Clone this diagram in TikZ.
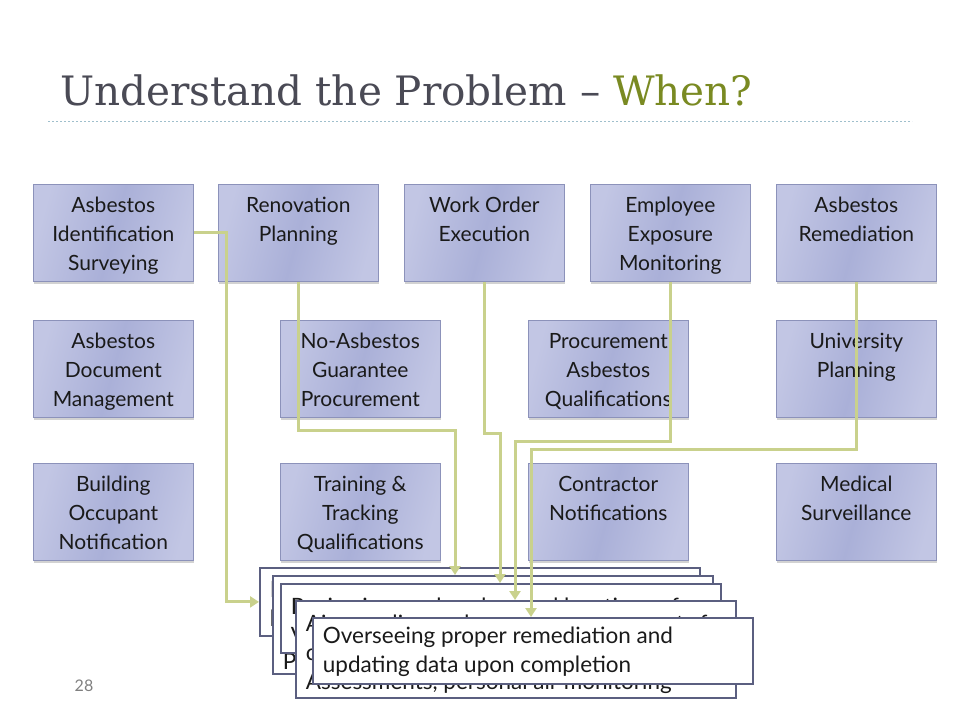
\documentclass[tikz,border=0pt]{standalone}
\usepackage{fontspec}
\setmainfont{Lato}
\newfontfamily\titlefont{DejaVu Serif}
\usetikzlibrary{arrows.meta,shadows}
\definecolor{titlegray}{HTML}{4A4A55}
\definecolor{titleolive}{HTML}{7A8A22}
\definecolor{rulecol}{HTML}{9FBFCC}
\definecolor{boxlight}{HTML}{C2C6E4}
\definecolor{boxdark}{HTML}{AAB0D8}
\definecolor{boxline}{HTML}{8C92BA}
\definecolor{txtc}{HTML}{1A1A1A}
\definecolor{callline}{HTML}{5B5F80}
\definecolor{connc}{HTML}{C9D18C}
\definecolor{pagegray}{HTML}{808080}
\newcommand\tb[1]{\parbox[c][97pt][t]{160pt}{\centering\fontsize{21}{29}\selectfont\color{txtc}\rule{0pt}{28pt}#1}}
\newcommand\cb[3]{\parbox[c][#1][t]{440pt}{\fontsize{22.5}{29}\selectfont\color{txtc}\leftskip=10pt\rightskip=0pt plus 1fil\rule{0pt}{#2}#3}}
\tikzset{
  topbox/.style={draw=boxline, line width=0.6pt, left color=boxlight, right color=boxlight, middle color=boxdark,
    shading angle=75,
    drop shadow={shadow xshift=1pt, shadow yshift=-2.5pt, opacity=0.35}, inner sep=0pt, anchor=north west},
  callbox/.style={draw=callline, line width=1.8pt, fill=white, inner sep=0pt, anchor=north west},
  conn/.style={draw=connc, line width=3pt, -{Triangle[length=9pt,width=11pt]}}
}
\begin{document}
\begin{tikzpicture}[x=1pt,y=-1pt]
\useasboundingbox[fill=white] (0,0) rectangle (960,720);

% title
\node[anchor=base west, inner sep=0pt, font=\titlefont\fontsize{40.5}{42}\selectfont] (title) at (60,105)
  {\color{titlegray}Understand the Problem – \color{titleolive}When?};
\draw[rulecol, line width=1pt, dash pattern=on 2pt off 2pt] (48,121) -- (912,121);

% row 1
\node[topbox] (a1) at (33,184) {\tb{Asbestos\\Identification\\Surveying}};
\node[topbox] (a2) at (218,184) {\tb{Renovation\\Planning}};
\node[topbox] (a3) at (404,184) {\tb{Work Order\\Execution}};
\node[topbox] (a4) at (590,184) {\tb{Employee\\Exposure\\Monitoring}};
\node[topbox] (a5) at (776,184) {\tb{Asbestos\\Remediation}};
% row 2
\node[topbox] (b1) at (33,320) {\tb{Asbestos\\Document\\Management}};
\node[topbox] (b2) at (280,320) {\tb{No-Asbestos\\Guarantee\\Procurement}};
\node[topbox] (b3) at (528,320) {\tb{Procurement\\Asbestos\\Qualifications}};
\node[topbox] (b4) at (776,320) {\tb{University\\Planning}};
% row 3
\node[topbox] (c1) at (33,463) {\tb{Building\\Occupant\\Notification}};
\node[topbox] (c2) at (280,463) {\tb{Training \&\\Tracking\\Qualifications}};
\node[topbox] (c3) at (528,463) {\tb{Contractor\\Notifications}};
\node[topbox] (c4) at (776,463) {\tb{Medical\\Surveillance}};

% stacked callouts
\node[callbox] (s1) at (259,567) {\cb{68pt}{30pt}{Identifying suspect materials before work\\begins and recording survey results}};
\node[callbox] (s2) at (272,575) {\cb{98pt}{36pt}{Reviewing renovation plans for asbestos\\impacts and scheduling abatement work\\Prior to construction}};
\node[callbox] (s3) at (280,583) {\cb{69pt}{31pt}{Reviewing work orders and locations of\\Verified asbestos-containing materials}};
\node[callbox] (s4) at (295,600) {\cb{97pt}{31pt}{Air sampling and exposure assessments for\\custodial and maintenance staff during\\Assessments, personal air monitoring}};
\node[callbox] (s5) at (312,617) {\cb{66pt}{26pt}{Overseeing proper remediation and\\updating data upon completion}};

% connectors
\draw[conn] (a1.east) -- ++(33,0) |- (s1.west);
\draw[conn] (a2.south) |- (455,430) -- (455,430 |- s2.north);
\draw[conn] (a3.south) |- (500,433) -- (500,433 |- s3.north);
\draw[conn] (a4.south) |- (515,441) -- (515,441 |- s4.north);
\draw[conn] (a5.south) |- (531,449) -- (531,449 |- s5.north);

% page number
\node[font=\fontsize{16}{18}\selectfont, text=pagegray] (pg) at (84,686) {28};
\end{tikzpicture}
\end{document}
